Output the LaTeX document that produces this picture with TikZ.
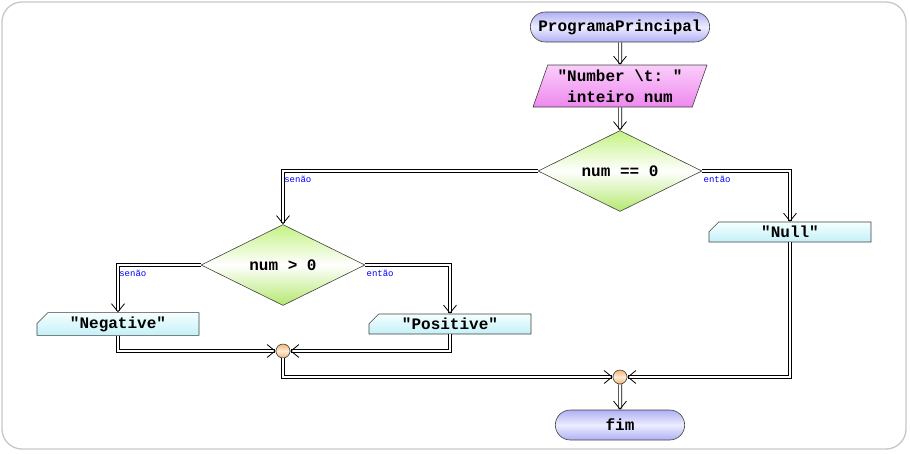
\documentclass[tikz,border=0pt]{standalone}
\usepackage{fontspec}
\setmonofont{Liberation Mono}
\usetikzlibrary{arrows.meta,shapes.geometric,shapes.misc}

\definecolor{termtop}{RGB}{176,176,244}
\definecolor{termmid}{RGB}{236,236,255}
\definecolor{iotop}{RGB}{250,206,250}
\definecolor{iobot}{RGB}{238,136,238}
\definecolor{dectop}{RGB}{196,242,130}
\definecolor{decbot}{RGB}{180,232,110}
\definecolor{outtop}{RGB}{244,255,255}
\definecolor{outbot}{RGB}{196,240,248}
\definecolor{jtop}{RGB}{244,180,110}
\definecolor{jmid}{RGB}{255,236,214}
\definecolor{edge}{RGB}{64,64,64}

\begin{document}
\begin{tikzpicture}[x=1pt, y=-1pt, >={Straight Barb[length=8pt, width=13pt, line width=0.8pt]},
	every node/.style={font=\fontsize{16}{21}\selectfont\ttfamily\bfseries, draw=edge, line width=0.6pt},
	term/.style={rounded rectangle, minimum height=30pt, top color=termtop, bottom color=termtop, middle color=termmid},
	io/.style={trapezium, trapezium left angle=67, trapezium right angle=113, trapezium stretches body, minimum width=174pt, minimum height=42pt, align=center, inner sep=1pt, top color=iotop, bottom color=iobot},
	decision/.style={diamond, aspect=2, minimum width=164pt, minimum height=81pt, top color=dectop, bottom color=decbot, middle color=white},
	saida/.style={chamfered rectangle, chamfered rectangle corners=north west, chamfered rectangle xsep=8pt, minimum width=162pt, minimum height=20pt, inner sep=1pt, top color=outtop, bottom color=outbot},
	junct/.style={circle, minimum size=14pt, inner sep=0pt, top color=jtop, bottom color=jtop, middle color=jmid},
	flow/.style={->, double, double distance=2.6pt, line width=0.7pt},
	lbl/.style={draw=none, font=\fontsize{9}{10}\selectfont\ttfamily, text=blue, inner sep=1pt, yshift=-4pt}]
	\useasboundingbox (0,0) rectangle (910,453);
	\draw[black!22, line width=1.3pt, rounded corners=20pt] (2,2) rectangle (906,449);

	\node[term, minimum width=186pt] (inicio) at (620,27) {ProgramaPrincipal};
	\node[io] (leitura) at (620,86) {"Number \textbackslash t: "\\inteiro num};
	\node[decision] (teste1) at (620,171) {num == 0};
	\node[decision] (teste2) at (283,265) {num > 0};
	\node[saida] (nulo) at (790,232) {"Null"};
	\node[saida] (negativo) at (118,324) {"Negative"};
	\node[saida] (positivo) at (450,324) {"Positive"};
	\node[junct] (junta1) at (283,351) {};
	\node[junct] (junta2) at (620,377) {};
	\node[term, minimum width=136pt] (fim) at (620,425) {fim};

	\draw[flow] (inicio) -- (leitura);
	\draw[flow] (leitura) -- (teste1);
	\draw[flow] (teste1.west) -| node[lbl, pos=0.5, below right] {senão} (teste2.north);
	\draw[flow] (teste1.east) -| node[lbl, pos=0, below right] {então} (nulo.north);
	\draw[flow] (teste2.west) -| node[lbl, pos=0.5, below right] {senão} (negativo.north);
	\draw[flow] (teste2.east) -| node[lbl, pos=0, below right] {então} (positivo.north);
	\draw[flow] (negativo.south) |- (junta1.west);
	\draw[flow] (positivo.south) |- (junta1.east);
	\draw[flow] (junta1.south) |- (junta2.west);
	\draw[flow] (nulo.south) |- (junta2.east);
	\draw[flow] (junta2) -- (fim);
\end{tikzpicture}
\end{document}
